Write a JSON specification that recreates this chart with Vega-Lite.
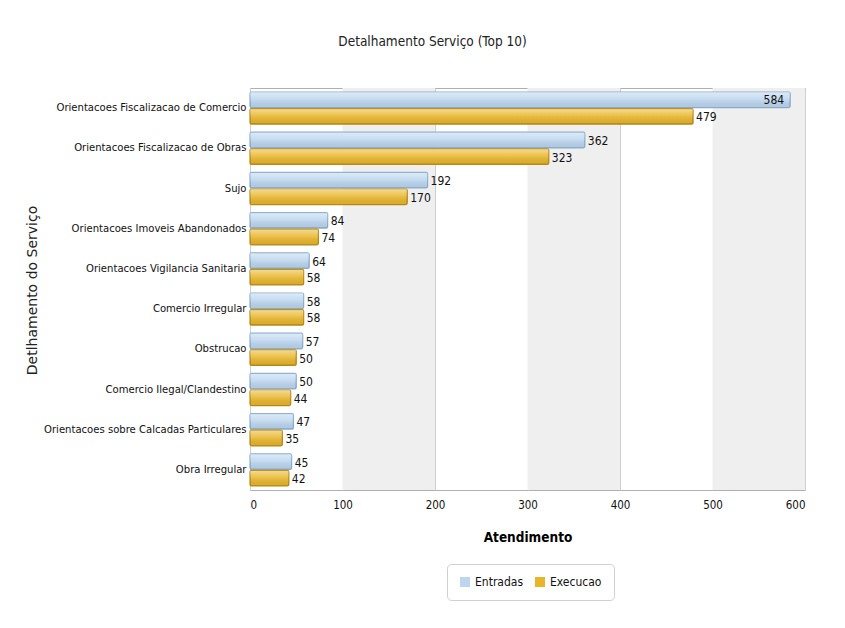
{
  "$schema": "https://vega.github.io/schema/vega-lite/v6.json",
  "width": 555,
  "height": 402,
  "autosize": {"type": "none"},
  "padding": {"left": 250, "top": 88, "right": 40, "bottom": 138},
  "background": "#ffffff",
  "title": {
    "text": "Detalhamento Serviço (Top 10)",
    "anchor": "middle",
    "frame": "group",
    "dx": -95,
    "offset": 40,
    "font": "DejaVu Sans Condensed, Liberation Sans Narrow, Liberation Sans, sans-serif",
    "fontSize": 13.5,
    "fontWeight": "normal",
    "color": "#222222"
  },
  "config": {
    "view": {"stroke": "#b0b0b0", "strokeWidth": 1},
    "font": "DejaVu Sans Condensed, Liberation Sans Narrow, Liberation Sans, sans-serif"
  },
  "datasets": {
    "bands": [
      {"start": 100, "end": 200},
      {"start": 300, "end": 400},
      {"start": 500, "end": 600}
    ],
    "main": [
      {"cat": "Orientacoes Fiscalizacao de Comercio", "series": "Entradas", "value": 584},
      {"cat": "Orientacoes Fiscalizacao de Comercio", "series": "Execucao", "value": 479},
      {"cat": "Orientacoes Fiscalizacao de Obras", "series": "Entradas", "value": 362},
      {"cat": "Orientacoes Fiscalizacao de Obras", "series": "Execucao", "value": 323},
      {"cat": "Sujo", "series": "Entradas", "value": 192},
      {"cat": "Sujo", "series": "Execucao", "value": 170},
      {"cat": "Orientacoes Imoveis Abandonados", "series": "Entradas", "value": 84},
      {"cat": "Orientacoes Imoveis Abandonados", "series": "Execucao", "value": 74},
      {"cat": "Orientacoes Vigilancia Sanitaria", "series": "Entradas", "value": 64},
      {"cat": "Orientacoes Vigilancia Sanitaria", "series": "Execucao", "value": 58},
      {"cat": "Comercio Irregular", "series": "Entradas", "value": 58},
      {"cat": "Comercio Irregular", "series": "Execucao", "value": 58},
      {"cat": "Obstrucao", "series": "Entradas", "value": 57},
      {"cat": "Obstrucao", "series": "Execucao", "value": 50},
      {"cat": "Comercio Ilegal/Clandestino", "series": "Entradas", "value": 50},
      {"cat": "Comercio Ilegal/Clandestino", "series": "Execucao", "value": 44},
      {"cat": "Orientacoes sobre Calcadas Particulares", "series": "Entradas", "value": 47},
      {"cat": "Orientacoes sobre Calcadas Particulares", "series": "Execucao", "value": 35},
      {"cat": "Obra Irregular", "series": "Entradas", "value": 45},
      {"cat": "Obra Irregular", "series": "Execucao", "value": 42}
    ]
  },
  "layer": [
    {
      "data": {"name": "bands"},
      "mark": {"type": "rect", "fill": "#efefef"},
      "encoding": {
        "x": {"field": "start", "type": "quantitative", "scale": {"domain": [0, 600]}},
        "x2": {"field": "end"}
      }
    },
    {
      "data": {"name": "main"},
      "mark": {"type": "bar", "strokeWidth": 1.2, "cornerRadius": 1.5},
      "encoding": {
        "y": {
          "field": "cat",
          "type": "nominal",
          "sort": null,
          "scale": {"paddingInner": 0.2, "paddingOuter": 0.1},
          "axis": {
            "title": "Detlhamento do Serviço",
            "titleFont": "DejaVu Sans",
            "titleFontSize": 14,
            "titleFontWeight": "normal",
            "titleColor": "#222222",
            "titleX": -218,
            "titleY": 202,
            "titleAngle": -90,
            "titleAlign": "center",
            "titleBaseline": "middle",
            "labelFontSize": 11.2,
            "labelColor": "#111111",
            "labelPadding": 4,
            "labelLimit": 260,
            "ticks": false,
            "domain": false
          }
        },
        "yOffset": {
          "field": "series",
          "type": "nominal",
          "scale": {"paddingInner": 0.06}
        },
        "x": {
          "field": "value",
          "type": "quantitative",
          "scale": {"domain": [0, 600]},
          "axis": {
            "values": [0, 100, 200, 300, 400, 500, 600],
            "title": "Atendimento",
            "titleFontSize": 13.5,
            "titleFontWeight": "bold",
            "titleColor": "#000000",
            "titleY": 47,
            "titleBaseline": "middle",
            "labelFontSize": 11.5,
            "labelColor": "#111111",
            "labelPadding": 9,
            "ticks": false,
            "domain": false,
            "grid": true,
            "gridColor": "#cfcfcf"
          }
        },
        "color": {
          "field": "series",
          "type": "nominal",
          "scale": {"domain": ["Entradas", "Execucao"], "range": ["#bcd6ef", "#e9b62a"]},
          "legend": {
            "title": null,
            "orient": "none",
            "direction": "horizontal",
            "legendX": 197,
            "legendY": 476,
            "padding": 12,
            "fillColor": "#ffffff",
            "strokeColor": "#d0d0d0",
            "cornerRadius": 4,
            "symbolType": "square",
            "symbolSize": 100,
            "symbolStrokeWidth": 0,
            "labelFontSize": 12,
            "labelOffset": 4,
            "labelColor": "#111111",
            "columnPadding": 10
          }
        },
        "stroke": {
          "field": "series",
          "type": "nominal",
          "scale": {"domain": ["Entradas", "Execucao"], "range": ["#8aaecd", "#b88b18"]},
          "legend": null
        }
      }
    },
    {
      "data": {"name": "main"},
      "mark": {
        "type": "bar",
        "cornerRadius": 1.5,
        "fill": {
          "gradient": "linear",
          "x1": 0, "y1": 0, "x2": 0, "y2": 1,
          "stops": [
            {"offset": 0, "color": "rgba(255,255,255,0.5)"},
            {"offset": 0.45, "color": "rgba(255,255,255,0.15)"},
            {"offset": 1, "color": "rgba(0,0,0,0.06)"}
          ]
        }
      },
      "encoding": {
        "y": {"field": "cat", "type": "nominal", "sort": null},
        "yOffset": {"field": "series", "type": "nominal"},
        "x": {"field": "value", "type": "quantitative"}
      }
    },
    {
      "data": {"name": "main"},
      "transform": [{"filter": "datum.value < 550"}],
      "mark": {"type": "text", "align": "left", "baseline": "middle", "dx": 3, "dy": 1, "fontSize": 12, "color": "#111111"},
      "encoding": {
        "y": {"field": "cat", "type": "nominal", "sort": null},
        "yOffset": {"field": "series", "type": "nominal"},
        "x": {"field": "value", "type": "quantitative"},
        "text": {"field": "value", "type": "quantitative"}
      }
    },
    {
      "data": {"name": "main"},
      "transform": [{"filter": "datum.value >= 550"}],
      "mark": {"type": "text", "align": "right", "baseline": "middle", "dx": -6, "dy": 0, "fontSize": 12, "color": "#111111"},
      "encoding": {
        "y": {"field": "cat", "type": "nominal", "sort": null},
        "yOffset": {"field": "series", "type": "nominal"},
        "x": {"field": "value", "type": "quantitative"},
        "text": {"field": "value", "type": "quantitative"}
      }
    }
  ]
}
